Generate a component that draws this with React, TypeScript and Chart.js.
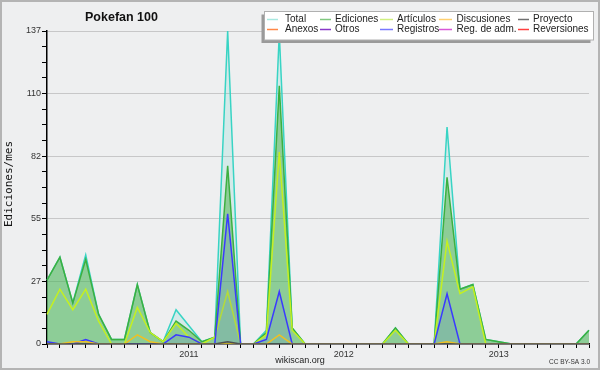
import React, { useEffect, useRef } from 'react';
import { Chart, registerables } from 'chart.js';

Chart.register(...registerables);

// Months Feb 2010 .. Aug 2013
const MONTHS = [
  '2010-02', '2010-03', '2010-04', '2010-05', '2010-06', '2010-07', '2010-08', '2010-09', '2010-10', '2010-11', '2010-12',
  '2011-01', '2011-02', '2011-03', '2011-04', '2011-05', '2011-06', '2011-07', '2011-08', '2011-09', '2011-10', '2011-11', '2011-12',
  '2012-01', '2012-02', '2012-03', '2012-04', '2012-05', '2012-06', '2012-07', '2012-08', '2012-09', '2012-10', '2012-11', '2012-12',
  '2013-01', '2013-02', '2013-03', '2013-04', '2013-05', '2013-06', '2013-07', '2013-08',
];

const TOTAL = [
  28, 38, 18, 39, 13, 2, 2, 26, 5, 1, 15,
  8, 1, 3, 137, 0, 0, 6, 136, 7, 0, 0, 0,
  0, 0, 0, 0, 7, 0, 0, 0, 95, 24, 26, 2,
  1, 0, 0, 0, 0, 0, 0, 6,
];
const EDICIONES = [
  28, 38, 18, 37, 13, 2, 2, 26, 5, 1, 10,
  6, 1, 3, 78, 0, 0, 5, 113, 7, 0, 0, 0,
  0, 0, 0, 0, 7, 0, 0, 0, 73, 24, 26, 2,
  1, 0, 0, 0, 0, 0, 0, 6,
];
const ARTICULOS = [
  13, 24, 15, 24, 10, 0, 0, 16, 5, 1, 9,
  3, 0, 3, 23, 0, 0, 4, 84, 6, 0, 0, 0,
  0, 0, 0, 0, 6, 0, 0, 0, 45, 22, 25, 0,
  0, 0, 0, 0, 0, 0, 0, 0,
];
const REGISTROS = [
  1, 0, 0, 2, 0, 0, 0, 0, 0, 0, 4,
  3, 0, 0, 57, 0, 0, 2, 23, 0, 0, 0, 0,
  0, 0, 0, 0, 0, 0, 0, 0, 22, 0, 0, 0,
  0, 0, 0, 0, 0, 0, 0, 0,
];
const DISCUSIONES = [
  0, 0, 1, 1, 0, 0, 0, 4, 1, 0, 0,
  0, 0, 0, 0, 0, 0, 0, 4, 0, 0, 0, 0,
  0, 0, 0, 0, 0, 0, 0, 0, 1, 0, 0, 0,
  0, 0, 0, 0, 0, 0, 0, 0,
];
const PROYECTO = [
  0, 0, 0, 0, 0, 0, 0, 0, 0, 0, 0,
  0, 0, 0, 1, 0, 0, 0, 0, 0, 0, 0, 0,
  0, 0, 0, 0, 0, 0, 0, 0, 0, 0, 0, 0,
  0, 0, 0, 0, 0, 0, 0, 0,
];

const Y_MAX = 137;
const Y_MINOR_COUNT = 20; // minor ticks between 0 and max
const Y_LABEL_EVERY = 4;

const LEGEND_ITEMS = [
  { label: 'Total', color: '#a8e8e0' },
  { label: 'Ediciones', color: '#80c880' },
  { label: 'Artículos', color: '#d0f080' },
  { label: 'Discusiones', color: '#ffd070' },
  { label: 'Proyecto', color: '#707070' },
  { label: 'Anexos', color: '#ff8848' },
  { label: 'Otros', color: '#8838c8' },
  { label: 'Registros', color: '#7878ff' },
  { label: 'Reg. de adm.', color: '#d858d8' },
  { label: 'Reversiones', color: '#ff4040' },
];

const TITLE = 'Pokefan 100';
const Y_TITLE = 'Ediciones/mes';
const FOOTER = 'wikiscan.org';
const LICENSE = 'CC BY-SA 3.0';

const BG = '#eeeff0';
const SANS = "'Liberation Sans', Arial, sans-serif";

const decorPlugin = {
  id: 'decor',
  beforeDraw(chart: any) {
    const ctx = chart.ctx;
    ctx.save();
    ctx.fillStyle = BG;
    ctx.fillRect(0, 0, chart.width, chart.height);
    ctx.restore();
  },
  afterDraw(chart: any) {
    const ctx = chart.ctx;
    ctx.save();
    // title
    ctx.fillStyle = '#111';
    ctx.font = `bold 12.5px ${SANS}`;
    ctx.textAlign = 'center';
    ctx.textBaseline = 'alphabetic';
    ctx.fillText(TITLE, 121.5, 21);

    // y title
    ctx.save();
    ctx.translate(9, 184);
    ctx.rotate(-Math.PI / 2);
    ctx.font = `11px 'DejaVu Sans Mono', monospace`;
    ctx.fillStyle = '#111';
    ctx.textAlign = 'center';
    ctx.textBaseline = 'middle';
    ctx.fillText(Y_TITLE, 0, 0);
    ctx.restore();

    // footer
    ctx.font = `9px ${SANS}`;
    ctx.fillStyle = '#222';
    ctx.textAlign = 'center';
    ctx.textBaseline = 'middle';
    ctx.fillText(FOOTER, 300, 361);
    ctx.font = `6.5px ${SANS}`;
    ctx.fillStyle = '#333';
    ctx.textAlign = 'right';
    ctx.fillText(LICENSE, 590, 362.5);

    // legend
    const bx = 264.5, by = 11.5, bw = 329, bh = 28.5;
    ctx.fillStyle = '#9a9a9a';
    ctx.fillRect(bx - 3, by + 3, bw, bh);
    ctx.fillStyle = '#ffffff';
    ctx.fillRect(bx, by, bw, bh);
    ctx.strokeStyle = '#b0b0b0';
    ctx.lineWidth = 1;
    ctx.strokeRect(bx, by, bw, bh);
    const cols = [
      { s: 267, e: 278, t: 285 },
      { s: 320, e: 331, t: 335 },
      { s: 380, e: 393, t: 397 },
      { s: 439, e: 452, t: 456.5 },
      { s: 518, e: 529, t: 533 },
    ];
    const rows = [19.5, 29.5];
    ctx.font = `10px ${SANS}`;
    ctx.textAlign = 'left';
    ctx.textBaseline = 'middle';
    LEGEND_ITEMS.forEach((it, i) => {
      const c = cols[i % 5];
      const y = rows[Math.floor(i / 5)];
      ctx.strokeStyle = it.color;
      ctx.lineWidth = 1.5;
      ctx.beginPath();
      ctx.moveTo(c.s, y);
      ctx.lineTo(c.e, y);
      ctx.stroke();
      ctx.fillStyle = '#222';
      ctx.fillText(it.label, c.t, y);
    });

    // outer border
    ctx.strokeStyle = '#b4b4b4';
    ctx.lineWidth = 2;
    ctx.strokeRect(1, 1, chart.width - 2, chart.height - 2);
    ctx.restore();
  },
};

export default function App() {
  const ref = useRef<HTMLCanvasElement | null>(null);
  useEffect(() => {
    if (!ref.current) return;
    const line = (label: string, data: number[], color: string, order: number, fill: string | null, width = 1.5) => ({
      label,
      data,
      borderColor: color,
      borderWidth: width,
      backgroundColor: fill || 'transparent',
      fill: fill ? 'origin' : false,
      pointRadius: 0,
      tension: 0,
      order,
    });
    const chart = new Chart(ref.current, {
      type: 'line',
      data: {
        labels: MONTHS,
        datasets: [
          line('Total', TOTAL, '#38d4c4', 6, 'rgba(64,208,192,0.15)'),
          line('Ediciones', EDICIONES, '#3cb040', 5, 'rgba(70,175,70,0.5)'),
          line('Artículos', ARTICULOS, '#c4f020', 4, null),
          line('Registros', REGISTROS, '#3a3aff', 3, 'rgba(64,64,255,0.12)'),
          line('Discusiones', DISCUSIONES, '#f0c020', 2, null),
          line('Proyecto', PROYECTO, '#505050', 1, null),
        ] as any,
      },
      options: {
        animation: false,
        responsive: false,
        maintainAspectRatio: false,
        events: [],
        layout: { padding: { top: 31, right: 11, left: 0, bottom: 0 } },
        plugins: {
          legend: { display: false },
          title: { display: false },
          tooltip: { enabled: false },
        },
        scales: {
          x: {
            type: 'category',
            offset: false,
            z: 1,
            grid: {
              drawOnChartArea: false,
              drawTicks: true,
              tickLength: 4,
              tickColor: '#000',
              tickWidth: 1,
            },
            border: { color: '#000', width: 1.5 },
            ticks: {
              autoSkip: false,
              maxRotation: 0,
              minRotation: 0,
              padding: 1,
              color: '#333',
              font: { family: SANS, size: 9 },
              callback: (_v: any, i: number) => (MONTHS[i].endsWith('-01') ? MONTHS[i].slice(0, 4) : ''),
            },
            afterFit: (s: any) => { s.height = 26; },
          },
          y: {
            type: 'linear',
            min: 0,
            max: Y_MAX,
            z: 1,
            afterBuildTicks: (s: any) => {
              const t = [];
              for (let i = 0; i <= Y_MINOR_COUNT; i++) t.push({ value: (Y_MAX * i) / Y_MINOR_COUNT });
              s.ticks = t;
            },
            grid: {
              color: (c: any) => (c.index > 0 && c.index % Y_LABEL_EVERY === 0 ? 'rgba(150,150,150,0.45)' : 'transparent'),
              tickColor: '#000',
              tickLength: 5,
              tickWidth: 1,
              lineWidth: 1,
            },
            border: { color: '#000', width: 1.5 },
            ticks: {
              autoSkip: false,
              padding: 1,
              color: '#333',
              font: { family: SANS, size: 9 },
              callback: (v: any, i: number) => (i % Y_LABEL_EVERY === 0 ? String(Math.round(v)) : ''),
            },
            afterFit: (s: any) => { s.width = 47; },
          },
        },
      } as any,
      plugins: [decorPlugin],
    });
    return () => chart.destroy();
  }, []);
  return (
    <div style={{ position: 'absolute', left: 0, top: 0, width: 600, height: 370 }}>
      <canvas ref={ref} width={600} height={370} style={{ display: 'block', width: 600, height: 370 }} />
    </div>
  );
}
